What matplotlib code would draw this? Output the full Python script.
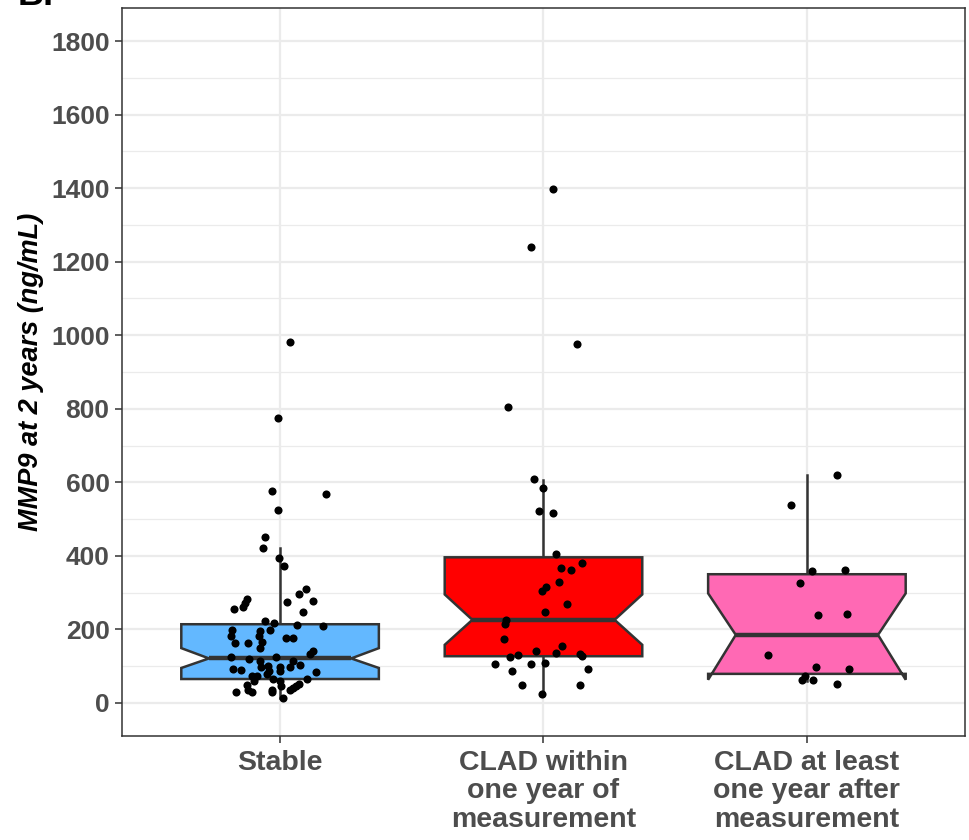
import matplotlib
matplotlib.use("Agg")
import matplotlib.pyplot as plt
from matplotlib.patches import Polygon
from matplotlib.ticker import MultipleLocator

plt.rcParams["font.family"] = ["Liberation Sans", "DejaVu Sans"]

# Categories and colours
categories = ["Stable", "CLAD within\none year of\nmeasurement",
              "CLAD at least\none year after\nmeasurement"]
fill_colors = ["#63B8FF", "#FF0000", "#FF69B4"]

# Box statistics (ng/mL)
q1 = [65, 127, 79]
median = [121, 226, 185]
q3 = [214, 396, 350]
whisker_lo = [14, 24, 60]
whisker_hi = [420, 605, 619]
notch_lo = [95, 158, 63]
notch_hi = [149, 295, 298]

# Individual measurements (jittered points)
stable_vals = [982, 774, 575, 569, 526, 450, 420, 395, 373, 310, 296, 282, 273,
               274, 276, 262, 255, 247, 224, 217, 212, 208, 197, 197, 196, 182,
               182, 176, 176, 163, 163, 165, 149, 140, 133, 124, 119, 115, 124,
               115, 104, 99, 93, 90, 97, 101, 97, 88, 88, 84, 72, 72, 79, 59,
               65, 59, 65, 50, 45, 52, 45, 41, 36, 36, 36, 30, 30, 30, 14]
stable_jit = [0.038, -0.009, -0.030, 0.173, -0.009, -0.057, -0.063, -0.004,
              0.016, 0.099, 0.073, -0.126, -0.135, 0.028, 0.124, -0.142, -0.174,
              0.086, -0.057, -0.023, 0.066, 0.164, -0.037, -0.183, -0.076,
              -0.187, -0.080, 0.023, 0.048, -0.171, -0.123, -0.069, -0.076,
              0.124, 0.114, -0.186, -0.118, -0.076, -0.016, 0.048, 0.076, 0.038,
              -0.180, -0.148, -0.072, -0.044, 0.000, -0.041, 0.000, 0.137,
              -0.107, -0.089, -0.048, -0.099, -0.025, 0.000, 0.101, -0.126,
              0.003, 0.073, 0.061, 0.048, -0.120, -0.032, 0.038, -0.167, -0.105,
              -0.032, 0.013]

within_vals = [1398, 1241, 976, 805, 609, 585, 523, 516, 406, 381, 368, 361,
               329, 316, 305, 268, 246, 226, 214, 173, 155, 142, 136, 125, 129,
               134, 128, 107, 107, 108, 88, 93, 49, 50, 24]
within_jit = [0.037, -0.047, 0.128, -0.134, -0.037, 0.000, -0.018, 0.037, 0.047,
              0.147, 0.067, 0.105, 0.058, 0.008, -0.005, 0.090, 0.006, -0.141,
              -0.148, -0.149, 0.072, -0.027, 0.046, -0.128, -0.096, 0.137, 0.147,
              -0.185, -0.049, 0.004, -0.119, 0.170, -0.080, 0.139, -0.004]

after_vals = [621, 538, 359, 362, 325, 239, 242, 129, 98, 92, 72, 63, 63, 52]
after_jit = [0.113, -0.060, 0.019, 0.143, -0.025, 0.041, 0.153, -0.147, 0.035,
             0.159, -0.008, -0.020, 0.024, 0.113]

point_vals = [stable_vals, within_vals, after_vals]
point_jit = [stable_jit, within_jit, after_jit]

y_label = "MMP9 at 2 years (ng/mL)"


def notched_box(ax, x, lo, mid, hi, n_lo, n_hi, color, width=0.75, ratio=0.72):
    xl, xr = x - width / 2, x + width / 2
    nl, nr = x - width * ratio / 2, x + width * ratio / 2
    verts = [(xl, hi), (xl, n_hi), (nl, mid), (xl, n_lo), (xl, lo),
             (xr, lo), (xr, n_lo), (nr, mid), (xr, n_hi), (xr, hi)]
    ax.add_patch(Polygon(verts, closed=True, facecolor=color,
                         edgecolor="#333333", linewidth=1.8, zorder=3,
                         joinstyle="miter"))
    ax.plot([nl, nr], [mid, mid], color="#333333", linewidth=3.2, zorder=4,
            solid_capstyle="butt")


fig = plt.figure(figsize=(9.7, 8.4), dpi=100)
ax = fig.add_axes([0.1258, 0.1238, 0.869, 0.8667])

positions = [1, 2, 3]
for i, x in enumerate(positions):
    # whiskers
    ax.plot([x, x], [q3[i], whisker_hi[i]], color="#333333", linewidth=1.8, zorder=2)
    ax.plot([x, x], [whisker_lo[i], q1[i]], color="#333333", linewidth=1.8, zorder=2)
    notched_box(ax, x, q1[i], median[i], q3[i], notch_lo[i], notch_hi[i],
                fill_colors[i])
    xs = [x + j for j in point_jit[i]]
    ax.scatter(xs, point_vals[i], s=34, color="black", linewidths=0, zorder=5)

# Axes styling (ggplot theme_bw look)
ax.set_xlim(0.4, 3.6)
ax.set_ylim(-90, 1890)
ax.set_xticks(positions)
ax.set_xticklabels(categories, fontsize=20.5, fontweight="bold", color="#4D4D4D",
                   linespacing=1.12)
ax.yaxis.set_major_locator(MultipleLocator(200))
ax.yaxis.set_minor_locator(MultipleLocator(100))
for lab in ax.get_yticklabels():
    lab.set_fontsize(19)
    lab.set_fontweight("bold")
    lab.set_color("#4D4D4D")

ax.tick_params(axis="both", which="major", length=5, width=1.1, color="#333333",
               pad=4)
ax.tick_params(axis="x", which="major", pad=5)
ax.tick_params(axis="y", which="minor", length=0)
ax.grid(which="major", color="#EBEBEB", linewidth=1.6, zorder=0)
ax.grid(which="minor", axis="y", color="#EBEBEB", linewidth=0.9, zorder=0)
ax.set_axisbelow(True)
for sp in ax.spines.values():
    sp.set_color("#333333")
    sp.set_linewidth(1.1)

ax.set_ylabel(y_label, fontsize=19.5, fontweight="bold", fontstyle="italic",
              color="black", labelpad=5)

fig.text(18 / 970, 1 - 5 / 840, "B.", fontsize=26, fontweight="bold",
         va="baseline", ha="left")

fig.savefig("out.png", dpi=100)
